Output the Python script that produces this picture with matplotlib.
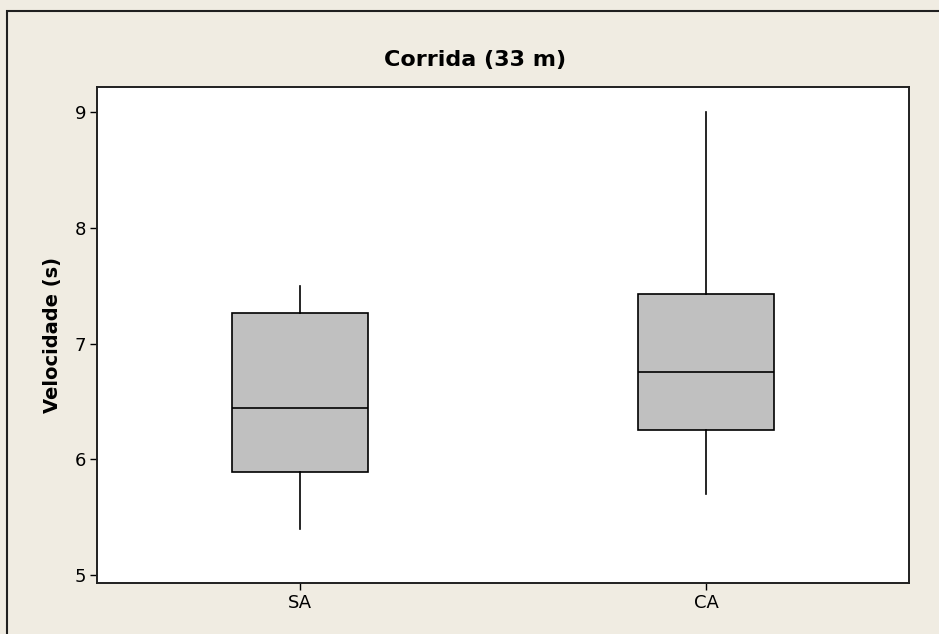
import matplotlib
matplotlib.use('Agg')
import matplotlib.pyplot as plt
from matplotlib.patches import Rectangle

# group labels and five-number summaries
groups = ['SA', 'CA']
whisker_low = [5.40, 5.70]
q1 = [5.89, 6.25]
median = [6.44, 6.75]
q3 = [7.26, 7.43]
whisker_high = [7.50, 9.00]
yticks = [5, 6, 7, 8, 9]

bg = '#f0ece2'

fig = plt.figure(figsize=(9.39, 6.34), dpi=100, facecolor=bg)
ax = fig.add_axes([0.1033, 0.0804, 0.8648, 0.7828])
ax.set_facecolor('white')

stats = []
for i, g in enumerate(groups):
    stats.append({'label': g, 'whislo': whisker_low[i], 'q1': q1[i],
                  'med': median[i], 'q3': q3[i], 'whishi': whisker_high[i],
                  'fliers': []})

ax.bxp(stats, positions=[1, 2], widths=0.336, showcaps=False, patch_artist=True,
       boxprops=dict(facecolor='#c0c0c0', edgecolor='black', linewidth=1.2),
       medianprops=dict(color='black', linewidth=1.2),
       whiskerprops=dict(color='black', linewidth=1.2))

ax.set_xlim(0.5, 2.5)
ax.set_ylim(4.931, 9.219)
ax.set_yticks(yticks)
ax.tick_params(direction='out', length=5, width=1, labelsize=13, colors='black', pad=3)
for s in ax.spines.values():
    s.set_linewidth(1.4)
    s.set_color('#202020')

ax.set_ylabel('Velocidade (s)', fontsize=14, fontweight='bold', labelpad=9)
fig.text(0.506, 0.905, 'Corrida (33 m)', ha='center', va='center',
         fontsize=16, fontweight='bold')

# outer frame, cut off at right and bottom like the original export
fig.patches.append(Rectangle((0.0075, -0.05), 1.1, 0.9826 + 0.05, transform=fig.transFigure,
                             fill=False, edgecolor='#202020', linewidth=1.5))

fig.savefig('out.png', dpi=100, facecolor=bg)
